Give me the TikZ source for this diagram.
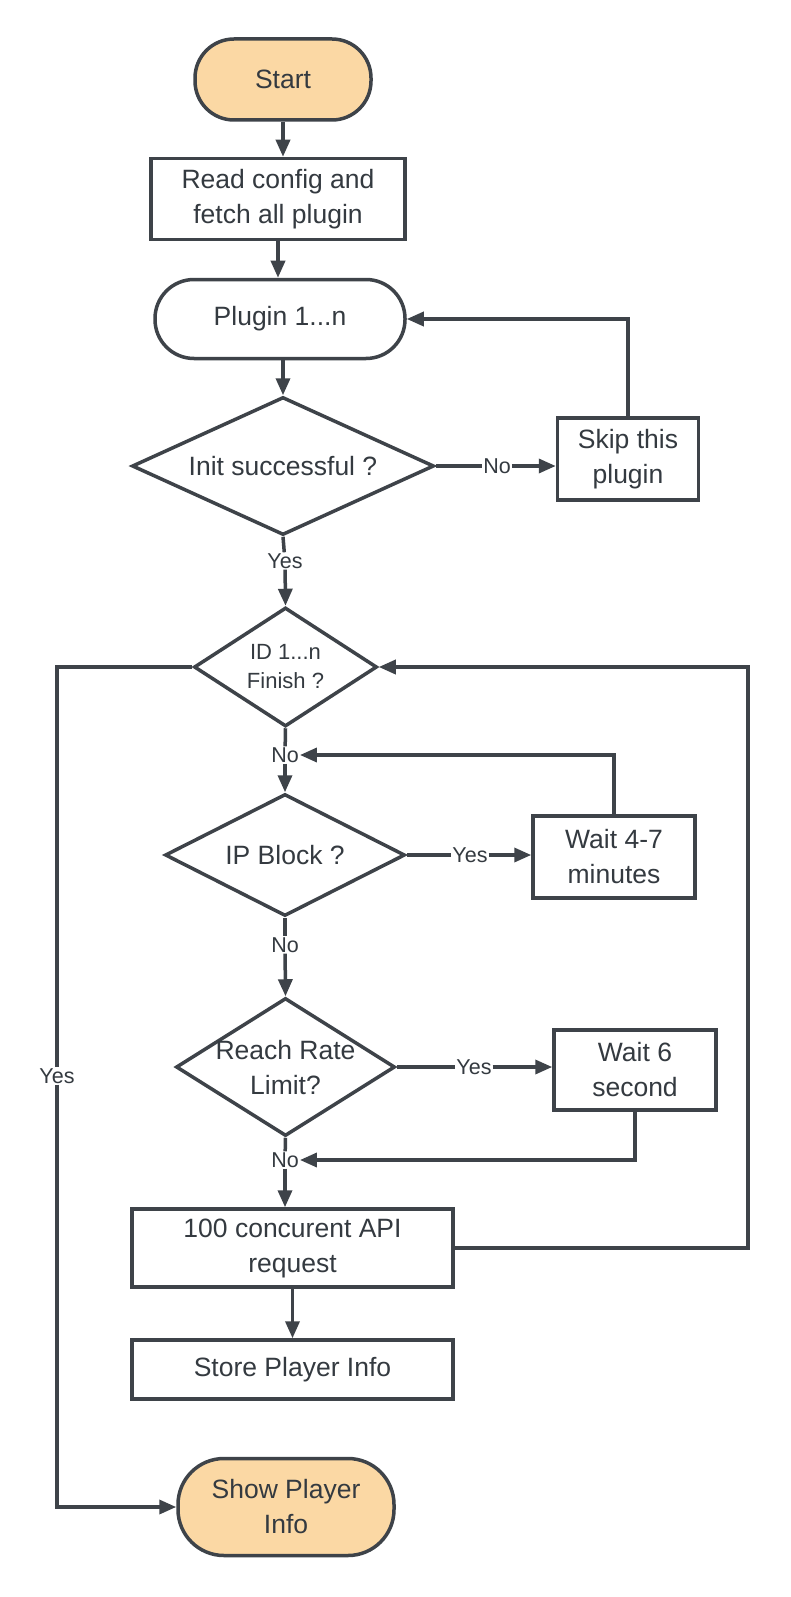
\documentclass[tikz,border=0pt]{standalone}
\usepackage{fontspec}
\setmainfont{Liberation Sans}
\usetikzlibrary{shapes.geometric, arrows.meta}
\definecolor{lineclr}{HTML}{3E4349}
\definecolor{textclr}{HTML}{343A40}
\definecolor{termfill}{HTML}{FBD8A4}
\tikzset{
  base/.style={draw=lineclr, line width=3.5pt, text=textclr, font=\fontsize{26.5}{35}\selectfont, align=center, inner sep=0pt},
  term/.style={base, rectangle, rounded corners=39pt, fill=termfill},
  proc/.style={base, rectangle, fill=white},
  decide/.style={base, diamond, fill=white},
  lbl/.style={fill=white, text=textclr, font=\fontsize{21.5}{24}\selectfont, inner sep=1pt},
  line/.style={draw=lineclr, line width=3.5pt},
  arr/.style={line, -{Triangle[length=17pt,width=14pt]}},
}

\begin{document}
\begin{tikzpicture}[x=1pt,y=-1pt]
\fill[white] (0,0) rectangle (790,1597);
\useasboundingbox (0,0) rectangle (790,1597);
%% nodes
\node[term, minimum width=176, minimum height=81] (start) at (283,79.5) {Start};
\node[proc, minimum width=254, minimum height=81] (read) at (278,199) {Read config and\\fetch all plugin};
\node[term, fill=white, minimum width=250, minimum height=79] (plugin) at (280,319) {Plugin 1...n};
\node[decide, aspect=2.19, minimum width=302, minimum height=138] (init) at (283,466) {Init successful ?};
\node[proc, minimum width=141, minimum height=82] (skip) at (628,459) {Skip this\\plugin};
\node[decide, aspect=1.54, minimum width=183, minimum height=119, font=\fontsize{22}{29}\selectfont] (id) at (285.5,667) {ID 1...n\\Finish ?};
\node[decide, aspect=1.97, minimum width=240, minimum height=122] (ip) at (285,855) {IP Block ?};
\node[proc, minimum width=162, minimum height=82] (wait47) at (614,857) {Wait 4-7\\minutes};
\node[decide, aspect=1.59, inner sep=-6pt, minimum width=219, minimum height=138] (rate) at (285.5,1067) {Reach Rate\\Limit?};
\node[proc, minimum width=162, minimum height=80] (wait6) at (635,1070) {Wait 6\\second};
\node[proc, minimum width=321, minimum height=78] (api) at (292.5,1248) {100 concurent API\\request};
\node[proc, minimum width=321, minimum height=59] (store) at (292.5,1369.5) {Store Player Info};
\node[term, rounded corners=46pt, minimum width=216, minimum height=97] (show) at (286,1507) {Show Player\\Info};
%% labels
\node[lbl] (noinit) at (497,466) {No};
\node[lbl] (yesinit) at (285,561) {Yes};
\node[lbl] (noid) at (285,755) {No};
\node[lbl] (yesip) at (470,855) {Yes};
\node[lbl] (noip) at (285,945) {No};
\node[lbl] (yesrate) at (474,1067) {Yes};
\node[lbl] (norate) at (285,1160) {No};
\node[lbl] (yesid) at (57,1076) {Yes};
\coordinate (loopr) at (748,1248);
\coordinate (loopl) at (57,667);
%% main flow
\draw[arr] (start.south) -- (start.south |- read.north);
\draw[arr] (read.south) -- (read.south |- plugin.north);
\draw[arr] (init.north |- plugin.south) -- (init.north);
\draw[line] (init.south) -- (yesinit);
\draw[arr] (yesinit) -- (id.north);
\draw[line] (id.south) -- (noid);
\draw[arr] (noid) -- (ip.north);
\draw[line] (ip.south) -- (noip);
\draw[arr] (noip) -- (rate.north);
\draw[line] (rate.south) -- (norate);
\draw[arr] (norate) -- (norate |- api.north);
\draw[arr] (api.south) -- (store.north);
%% side branches
\draw[line] (init.east) -- (noinit);
\draw[arr] (noinit) -- (noinit -| skip.west);
\draw[arr] (skip.north) |- (plugin.east);
\draw[line] (ip.east) -- (yesip);
\draw[arr] (yesip) -- (yesip -| wait47.west);
\draw[arr] (wait47.north) |- (noid.east);
\draw[line] (rate.east) -- (yesrate);
\draw[arr] (yesrate) -- (yesrate -| wait6.west);
\draw[arr] (wait6.south) |- (norate.east);
%% loops
\draw[arr] (api.east) -- (loopr) |- (id.east);
\draw[line] (id.west) -- (loopl) -- (yesid);
\draw[arr] (yesid) |- (show.west);
\end{tikzpicture}
\end{document}
